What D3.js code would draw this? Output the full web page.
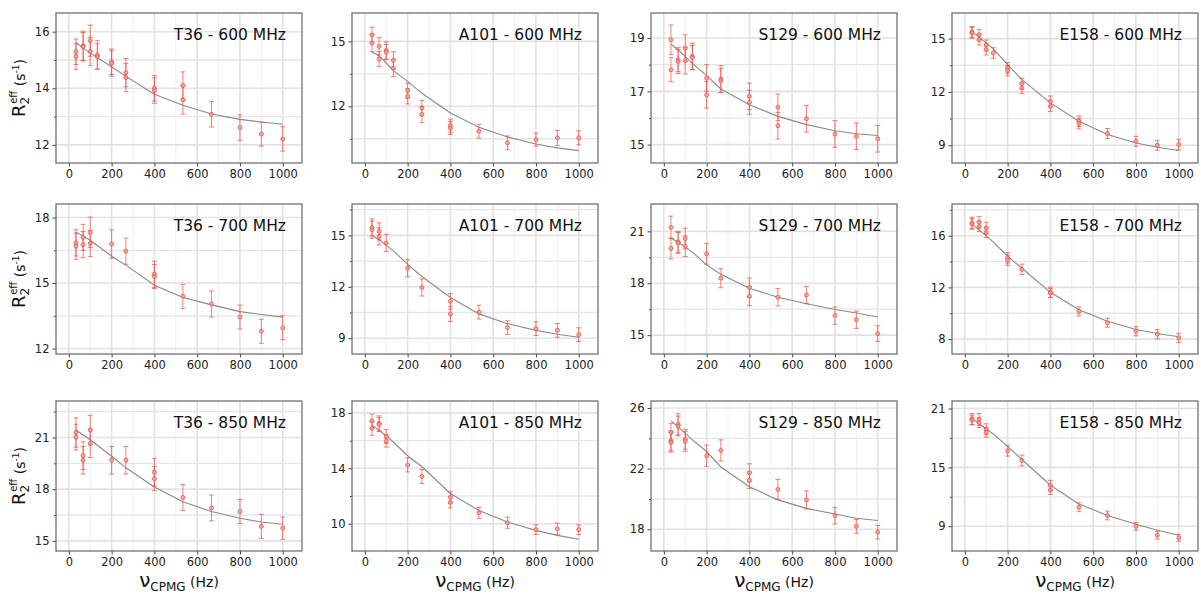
<!DOCTYPE html>
<meta charset="utf-8">
<head>
  <title>CPMG relaxation dispersion</title>
</head>
<style>
body { margin: 0; background: #fff; }
text { font-family: "DejaVu Sans", sans-serif; }
.tick text { fill: #222; font-size: 11.5px; }
</style>
<body>
  <svg width="1201" height="595"></svg>
  <script src="https://cdn.jsdelivr.net/npm/d3@7"></script>
  <script>
var residues = ['T36', 'A101', 'S129', 'E158'];
var fields = ['600', '700', '850'];
var nuFit = [33.3, 66.7, 100, 133.3, 200, 266.7, 400, 533.3, 666.7, 800, 900, 1000];
var xTicks = [0, 200, 400, 600, 800, 1000];
var xMinor = [100, 300, 500, 700, 900];

// observed [nu, R2eff, err]
var obsT36_600 = [[33.3,15.29,0.45],[33.3,15.12,0.45],[66.7,15.5,0.52],[66.7,15.47,0.5],[100,15.68,0.55],[100,15.3,0.5],[133.3,15.18,0.5],[133.3,15.12,0.45],[200,14.94,0.45],[200,14.88,0.45],[266.7,14.55,0.5],[266.7,14.38,0.5],[400,14.0,0.45],[400,13.92,0.45],[533.3,14.1,0.48],[533.3,13.59,0.5],[666.7,13.08,0.45],[800,12.61,0.45],[900,12.38,0.42],[1000,12.21,0.43]];
var obsA101_600 = [[33.3,15.3,0.35],[33.3,14.92,0.4],[66.7,14.77,0.4],[66.7,14.18,0.35],[100,14.58,0.4],[100,14.5,0.35],[133.3,14.12,0.4],[133.3,13.77,0.4],[200,12.72,0.35],[200,12.46,0.35],[266.7,11.92,0.35],[266.7,11.62,0.38],[400,11.11,0.3],[400,11.0,0.3],[533.3,10.85,0.32],[666.7,10.31,0.32],[800,10.46,0.3],[900,10.54,0.35],[1000,10.54,0.32]];
var obsS129_600 = [[33.3,18.94,0.55],[33.3,17.81,0.45],[66.7,18.19,0.45],[66.7,18.12,0.45],[100,18.62,0.5],[100,18.15,0.5],[133.3,18.31,0.5],[133.3,18.27,0.45],[200,17.5,0.5],[200,16.87,0.5],[266.7,17.46,0.5],[266.7,17.4,0.45],[400,16.81,0.5],[400,16.59,0.45],[533.3,16.4,0.5],[533.3,15.71,0.5],[666.7,15.97,0.5],[800,15.4,0.5],[900,15.31,0.5],[1000,15.22,0.5]];
var obsE158_600 = [[33.3,15.38,0.3],[33.3,15.32,0.3],[66.7,15.22,0.3],[66.7,14.94,0.3],[100,14.62,0.3],[100,14.38,0.3],[133.3,14.19,0.3],[200,13.35,0.3],[200,13.2,0.3],[266.7,12.47,0.3],[266.7,12.22,0.3],[400,11.47,0.3],[400,11.19,0.3],[533.3,10.35,0.3],[533.3,10.22,0.3],[666.7,9.66,0.28],[800,9.22,0.28],[900,9.0,0.28],[1000,9.04,0.3]];
var obsT36_700 = [[33.3,16.84,0.6],[33.3,16.69,0.6],[66.7,17.09,0.6],[66.7,16.76,0.6],[100,17.32,0.7],[100,16.81,0.6],[200,16.79,0.65],[266.7,16.46,0.6],[400,15.4,0.6],[400,15.3,0.55],[533.3,14.39,0.55],[666.7,14.04,0.6],[800,13.44,0.55],[900,12.79,0.55],[1000,12.95,0.55]];
var obsA101_700 = [[33.3,15.46,0.5],[33.3,15.33,0.5],[66.7,15.23,0.5],[66.7,14.94,0.5],[100,14.56,0.5],[200,13.08,0.5],[266.7,11.96,0.5],[400,11.15,0.45],[400,10.42,0.45],[533.3,10.52,0.4],[666.7,9.62,0.4],[800,9.56,0.4],[900,9.46,0.4],[1000,9.21,0.4]];
var obsS129_700 = [[33.3,21.23,0.65],[33.3,20.01,0.6],[66.7,20.39,0.6],[66.7,20.33,0.6],[100,20.58,0.6],[100,20.14,0.6],[200,19.7,0.6],[266.7,18.29,0.55],[400,17.76,0.55],[400,17.25,0.55],[533.3,17.19,0.5],[666.7,17.32,0.5],[800,16.13,0.5],[900,15.89,0.5],[1000,15.09,0.45]];
var obsE158_700 = [[33.3,16.97,0.45],[33.3,16.92,0.4],[66.7,17.04,0.45],[66.7,16.71,0.4],[100,16.59,0.45],[100,16.25,0.4],[200,14.29,0.4],[200,14.11,0.4],[266.7,13.4,0.4],[400,11.62,0.4],[400,11.57,0.35],[533.3,10.14,0.35],[666.7,9.27,0.35],[800,8.61,0.35],[900,8.38,0.35],[1000,8.1,0.35]];
var obsT36_850 = [[33.3,21.29,0.85],[33.3,21.02,0.75],[66.7,19.95,0.8],[66.7,19.68,0.8],[100,21.44,0.85],[100,20.64,0.8],[200,19.68,0.8],[266.7,19.68,0.8],[400,18.99,0.8],[400,18.61,0.7],[533.3,17.52,0.75],[666.7,16.91,0.75],[800,16.7,0.7],[900,15.84,0.7],[1000,15.74,0.65]];
var obsA101_850 = [[33.3,17.41,0.5],[33.3,16.88,0.5],[66.7,17.24,0.55],[66.7,17.17,0.5],[100,16.29,0.5],[100,15.98,0.45],[200,14.24,0.5],[266.7,13.41,0.5],[400,11.9,0.4],[400,11.54,0.4],[533.3,10.78,0.4],[666.7,10.07,0.4],[800,9.57,0.35],[900,9.64,0.4],[1000,9.57,0.35]];
var obsS129_850 = [[33.3,24.39,0.6],[33.3,23.83,0.65],[33.3,23.74,0.65],[66.7,24.92,0.7],[66.7,24.81,0.65],[100,23.94,0.65],[100,23.79,0.65],[200,22.85,0.7],[266.7,23.2,0.7],[400,21.72,0.6],[400,21.24,0.55],[533.3,20.63,0.65],[666.7,19.94,0.6],[800,18.9,0.55],[900,18.2,0.45],[1000,17.81,0.45]];
var obsE158_850 = [[33.3,19.93,0.55],[33.3,19.83,0.5],[66.7,19.89,0.6],[66.7,19.56,0.5],[100,18.89,0.55],[100,18.58,0.5],[200,16.7,0.55],[266.7,15.7,0.55],[400,13.18,0.5],[400,12.68,0.45],[533.3,10.93,0.45],[666.7,10.09,0.45],[800,8.99,0.4],[900,8.08,0.4],[1000,7.81,0.35]];

// fitted curve, one value per nuFit
var fitT36_600 = [15.62,15.42,15.25,15.08,14.76,14.42,13.79,13.4,13.09,12.9,12.81,12.73];
var fitA101_600 = [14.51,14.34,14.0,13.65,13.15,12.6,11.69,11.03,10.58,10.26,10.08,9.95];
var fitS129_600 = [18.77,18.55,18.31,18.05,17.59,17.09,16.5,16.06,15.75,15.52,15.41,15.34];
var fitE158_600 = [15.38,15.08,14.76,14.42,13.54,12.69,11.38,10.35,9.6,9.13,8.89,8.7];
var fitT36_700 = [17.32,17.15,16.96,16.72,16.23,15.82,14.9,14.34,14.0,13.69,13.56,13.44];
var fitA101_700 = [15.0,14.75,14.42,14.1,13.31,12.6,11.38,10.42,9.85,9.46,9.23,9.06];
var fitS129_700 = [20.62,20.37,20.1,19.8,19.06,18.52,17.71,17.19,16.81,16.48,16.28,16.05];
var fitE158_700 = [16.89,16.45,16.0,15.5,14.42,13.48,11.62,10.27,9.38,8.74,8.43,8.18];
var fitT36_850 = [21.44,21.15,20.87,20.55,19.91,19.24,18.13,17.27,16.7,16.31,16.09,15.96];
var fitA101_850 = [17.12,16.75,16.34,15.9,14.91,14.11,12.18,10.95,10.12,9.52,9.16,8.88];
var fitS129_850 = [25.15,24.75,24.33,23.9,23.13,22.11,20.81,19.94,19.38,19.01,18.73,18.58];
var fitE158_850 = [20.0,19.45,18.92,18.4,17.14,15.8,13.18,11.27,10.09,9.19,8.58,8.08];

// y limits, labelled ticks and minor ticks for each panel (row by row)
var yLims = [[11.36,16.66],[9.38,16.31],[14.31,19.94],[8.0,16.44],
             [11.75,18.62],[8.08,16.83],[13.91,22.58],[6.85,18.45],
             [14.41,23.12],[8.03,18.86],[16.57,26.46],[6.47,21.77]];
var yTicks = [[12,14,16],[12,15],[15,17,19],[9,12,15],
              [12,15,18],[9,12,15],[15,18,21],[8,12,16],
              [15,18,21],[10,14,18],[18,22,26],[9,15,21]];
var yMinor = [[13,15],[10.5,13.5],[16,18],[10.5,13.5],
              [13.5,16.5],[10.5,13.5,16.5],[16.5,19.5],[10,14,18],
              [16.5,19.5,22.5],[12,16],[20,24],[12,18]];

var obsAll = [obsT36_600, obsA101_600, obsS129_600, obsE158_600,
              obsT36_700, obsA101_700, obsS129_700, obsE158_700,
              obsT36_850, obsA101_850, obsS129_850, obsE158_850];
var fitAll = [fitT36_600, fitA101_600, fitS129_600, fitE158_600,
              fitT36_700, fitA101_700, fitS129_700, fitE158_700,
              fitT36_850, fitA101_850, fitS129_850, fitE158_850];

var colLeft = [56, 352, 651, 952];
var rowTop = [13, 204, 401];
var pw = 246, ph = 150;

var svg = d3.select('svg');
var red = '#ee4b3f';

fields.forEach(function(field, r) {
  residues.forEach(function(res, c) {
    var i = r * 4 + c;
    var g = svg.append('g')
      .attr('transform', 'translate(' + colLeft[c] + ',' + rowTop[r] + ')');

    var x = d3.scaleLinear().domain([-60, 1090]).range([0, pw]);
    var y = d3.scaleLinear().domain(yLims[i]).range([ph, 0]);

    // grid
    g.selectAll('.xminor').data(xMinor).enter().append('line')
      .attr('x1', function(d) { return x(d); }).attr('x2', function(d) { return x(d); })
      .attr('y1', 0).attr('y2', ph)
      .attr('stroke', '#efefef').attr('stroke-width', 1);
    g.selectAll('.yminor').data(yMinor[i]).enter().append('line')
      .attr('x1', 0).attr('x2', pw)
      .attr('y1', function(d) { return y(d); }).attr('y2', function(d) { return y(d); })
      .attr('stroke', '#e6e6e6').attr('stroke-width', 1.3);
    g.selectAll('.xmajor').data(xTicks).enter().append('line')
      .attr('x1', function(d) { return x(d); }).attr('x2', function(d) { return x(d); })
      .attr('y1', 0).attr('y2', ph)
      .attr('stroke', '#e2e2e2').attr('stroke-width', 1.6);
    g.selectAll('.ymajor').data(yTicks[i]).enter().append('line')
      .attr('x1', 0).attr('x2', pw)
      .attr('y1', function(d) { return y(d); }).attr('y2', function(d) { return y(d); })
      .attr('stroke', '#e2e2e2').attr('stroke-width', 1.6);

    // axes
    var xAxis = g.append('g').attr('class', 'tick-x')
      .attr('transform', 'translate(0,' + ph + ')')
      .call(d3.axisBottom(x).tickValues(xTicks).tickSize(3.5).tickPadding(3).tickFormat(d3.format('d')));
    var yAxis = g.append('g')
      .call(d3.axisLeft(y).tickValues(yTicks[i]).tickSize(3.5).tickPadding(3).tickFormat(d3.format('d')));
    g.append('g')
      .call(d3.axisLeft(y).tickValues(yMinor[i]).tickSize(2).tickFormat(''));
    g.selectAll('.domain').remove();
    g.selectAll('.tick line').attr('stroke', '#444');

    // fit curve
    var line = d3.line()
      .x(function(d, k) { return x(nuFit[k]); })
      .y(function(d) { return y(d); });
    g.append('path').datum(fitAll[i])
      .attr('d', line)
      .attr('fill', 'none')
      .attr('stroke', '#8a8a8a')
      .attr('stroke-width', 1.1);

    // error bars
    var eb = g.selectAll('.eb').data(obsAll[i]).enter().append('g')
      .attr('stroke', red).attr('stroke-opacity', 0.7).attr('stroke-width', 1);
    eb.append('line')
      .attr('x1', function(d) { return x(d[0]); }).attr('x2', function(d) { return x(d[0]); })
      .attr('y1', function(d) { return y(d[1] - d[2]); })
      .attr('y2', function(d) { return y(d[1] + d[2]); });
    eb.append('line')
      .attr('x1', function(d) { return x(d[0]) - 2.5; }).attr('x2', function(d) { return x(d[0]) + 2.5; })
      .attr('y1', function(d) { return y(d[1] + d[2]); })
      .attr('y2', function(d) { return y(d[1] + d[2]); });
    eb.append('line')
      .attr('x1', function(d) { return x(d[0]) - 2.5; }).attr('x2', function(d) { return x(d[0]) + 2.5; })
      .attr('y1', function(d) { return y(d[1] - d[2]); })
      .attr('y2', function(d) { return y(d[1] - d[2]); });

    // markers
    g.selectAll('.pt').data(obsAll[i]).enter().append('circle')
      .attr('cx', function(d) { return x(d[0]); })
      .attr('cy', function(d) { return y(d[1]); })
      .attr('r', 2)
      .attr('fill', '#f4a09a')
      .attr('fill-opacity', 0.8)
      .attr('stroke', red)
      .attr('stroke-opacity', 0.75)
      .attr('stroke-width', 1);

    // frame
    g.append('rect')
      .attr('width', pw).attr('height', ph)
      .attr('fill', 'none').attr('stroke', '#666').attr('stroke-width', 1.2);

    // title
    g.append('text')
      .attr('x', pw - 16).attr('y', 27)
      .attr('text-anchor', 'end')
      .style('font-size', '15.5px')
      .attr('fill', '#111')
      .text(res + ' - ' + field + ' MHz');

    // y label on the first column
    if (c === 0) {
      var yl = svg.append('text')
        .attr('transform', 'translate(25,' + (rowTop[r] + ph / 2) + ') rotate(-90)')
        .attr('text-anchor', 'middle')
        .attr('fill', '#111')
        .style('font-size', '18px');
      yl.append('tspan').text('R');
      yl.append('tspan').attr('dy', 4).style('font-size', '12px').text('2');
      yl.append('tspan').attr('dy', -12).attr('dx', -7).style('font-size', '10px').text('eff');
      yl.append('tspan').attr('dy', 8).style('font-size', '14px').text(' (s');
      yl.append('tspan').attr('dy', -6).style('font-size', '9px').text('-1');
      yl.append('tspan').attr('dy', 6).style('font-size', '14px').text(')');
    }

    // x label on the bottom row
    if (r === 2) {
      var xl = svg.append('text')
        .attr('x', colLeft[c] + pw / 2).attr('y', 587)
        .attr('text-anchor', 'middle')
        .attr('fill', '#111')
        .style('font-size', '20px');
      xl.append('tspan').text('\u03bd');
      xl.append('tspan').attr('dy', 4).style('font-size', '12px').text('CPMG');
      xl.append('tspan').attr('dy', -4).style('font-size', '14px').text(' (Hz)');
    }
  });
});
  </script>
</body>
</html>
